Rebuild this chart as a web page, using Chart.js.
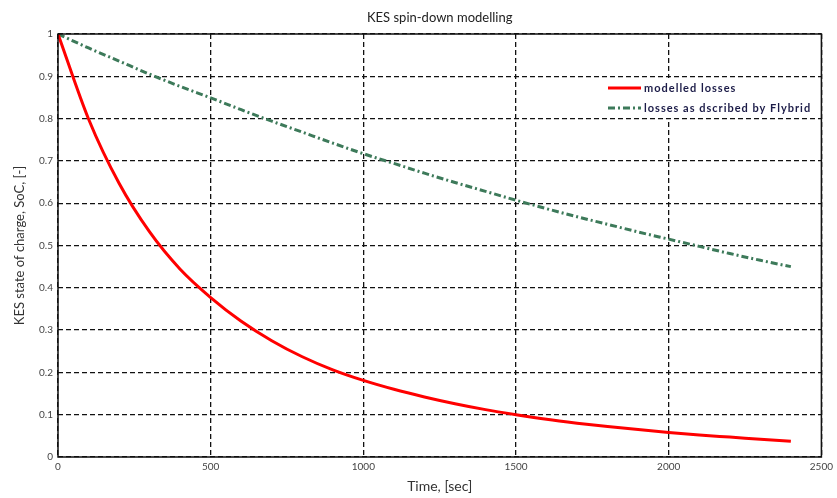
<!DOCTYPE html>
<html>
<head>
<meta charset="utf-8">
<script src="https://cdn.jsdelivr.net/npm/chart.js@4.4.0/dist/chart.umd.min.js"></script>
<style>
  body { margin: 0; background: #fff; }
  #wrap { width: 837px; height: 498px; }
</style>
</head>
<body>
<div id="wrap"><canvas id="c"></canvas></div>
<script>
// time in sec
const times = [0,100,200,300,400,500,600,700,800,900,1000,1100,1200,1300,1400,1500,1600,1700,1800,1900,2000,2100,2200,2300,2400]
// modelled losses
const modelled = [1.00,0.799,0.647,0.532,0.444,0.377,0.321,0.275,0.237,0.206,0.181,0.160,0.142,0.126,0.112,0.100,0.089,0.080,0.072,0.065,0.058,0.052,0.047,0.042,0.037]
// losses as described by Flybrid
const flybrid = [1.00,0.967,0.936,0.905,0.876,0.849,0.821,0.794,0.768,0.742,0.717,0.694,0.671,0.649,0.628,0.607,0.587,0.568,0.550,0.532,0.515,0.498,0.481,0.465,0.450]

const labelNames = ["modelled losses", "losses as dscribed by Flybrid"]

function pts(vals){
    return times.map((t,i)=>({x:t, y:vals[i]}))
}

const fontName = "Lato, 'Open Sans', sans-serif"

// box round the plot + legend inside it
const boxAndLegend = {
    id: 'boxAndLegend',
    afterDatasetsDraw(chart){
        const ctx = chart.ctx
        const a = chart.chartArea
        ctx.save()
        // legend background
        ctx.fillStyle = '#fff'
        ctx.fillRect(600, 78, a.right - 601, 40)
        chart.data.datasets.forEach((ds,i)=>{
            const y = 88 + i*20
            ctx.beginPath()
            ctx.strokeStyle = ds.borderColor
            ctx.lineWidth = ds.borderWidth
            ctx.setLineDash(ds.borderDash || [])
            ctx.moveTo(608, y)
            ctx.lineTo(641, y)
            ctx.stroke()
            ctx.setLineDash([])
            ctx.fillStyle = '#1c1c48'
            ctx.font = "bold 11px " + fontName
            ctx.letterSpacing = '1px'
            ctx.textBaseline = 'middle'
            ctx.fillText(ds.label, 644, y)
        })
        ctx.letterSpacing = '0px'
        // frame
        ctx.strokeStyle = '#111'
        ctx.lineWidth = 1.5
        ctx.strokeRect(a.left, a.top, a.right - a.left, a.bottom - a.top)
        ctx.restore()
    }
}

new Chart(document.getElementById('c'), {
    type: 'line',
    data: {
        datasets: [
            {
                label: labelNames[0],
                data: pts(modelled),
                borderColor: '#ff0000',
                borderWidth: 3,
                pointRadius: 0,
                cubicInterpolationMode: 'monotone'
            },
            {
                label: labelNames[1],
                data: pts(flybrid),
                borderColor: '#3d7a5a',
                borderWidth: 3,
                borderDash: [7,3,2,3],
                pointRadius: 0,
                cubicInterpolationMode: 'monotone'
            }
        ]
    },
    options: {
        responsive: true,
        maintainAspectRatio: false,
        animation: false,
        layout: { padding: { left: 0, right: 15, top: 0, bottom: 0 } },
        plugins: {
            legend: { display: false },
            tooltip: { enabled: false },
            title: {
                display: true,
                text: 'KES spin-down modelling',
                fullSize: false,
                color: '#222',
                font: { family: fontName, size: 13, weight: 'normal' },
                padding: { top: 10, bottom: 8.4 }
            }
        },
        scales: {
            x: {
                type: 'linear',
                min: 0, max: 2500,
                afterFit(s){ s.height = 41 },
                ticks: {
                    stepSize: 500,
                    color: '#444',
                    font: { family: fontName, size: 10 },
                    padding: 4,
                    callback: v => String(v)
                },
                grid: { color: '#111', lineWidth: 1.3, drawTicks: false },
                border: { display: false, dash: [5,3] },
                title: {
                    display: true,
                    text: 'Time, [sec]',
                    color: '#333',
                    font: { family: fontName, size: 14 },
                    padding: { top: 0, bottom: 3 }
                }
            },
            y: {
                min: 0, max: 1,
                afterFit(s){ s.width = 58 },
                ticks: {
                    stepSize: 0.1,
                    color: '#444',
                    font: { family: fontName, size: 10 },
                    padding: 5,
                    callback: v => String(Math.round(v*10)/10)
                },
                grid: { color: '#111', lineWidth: 1.3, drawTicks: false },
                border: { display: false, dash: [5,3] },
                title: {
                    display: true,
                    text: 'KES state of charge, SoC, [-]',
                    color: '#333',
                    font: { family: fontName, size: 13 },
                    padding: { top: 12, bottom: 0 }
                }
            }
        }
    },
    plugins: [boxAndLegend]
})
</script>
</body>
</html>
